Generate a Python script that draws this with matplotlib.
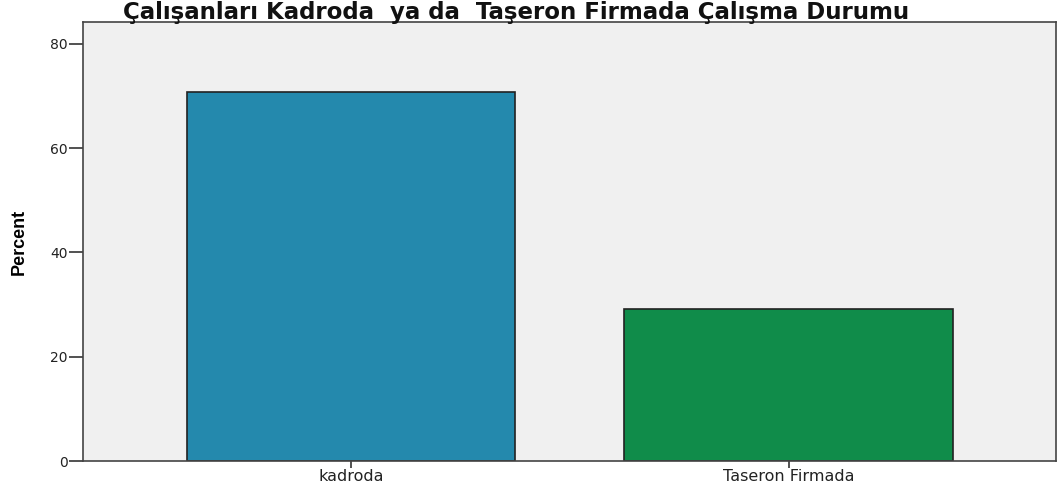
import matplotlib
matplotlib.use("Agg")
import matplotlib.pyplot as plt

categories = ["kadroda", "Taseron Firmada"]
percents = [70.8, 29.2]
colors = ["#2489AD", "#108C4A"]
yticks = [0, 20, 40, 60, 80]
title = "Çalışanları Kadroda  ya da  Taşeron Firmada Çalışma Durumu"

plt.rcParams['font.family'] = ['DejaVu Sans']

fig = plt.figure(figsize=(10.59, 4.9), dpi=100)
ax = fig.add_axes([83/1059, 1 - 461/490, (1056-83)/1059, (461-22)/490])
ax.set_facecolor("#F0F0F0")
x = list(range(len(categories)))
ax.bar(x, percents, width=0.75, color=colors, edgecolor="#222222", linewidth=1.2, zorder=2)
ax.set_xlim(-0.612, 1.611)
ax.set_ylim(0, 84.2)
ax.set_yticks(yticks)
ax.set_xticks(x)
ax.set_xticklabels(categories, fontsize=11.5, color="#222222")
ax.tick_params(axis='y', labelsize=10, length=10, width=1.2, color="#333333", pad=1, labelcolor="#222222")
ax.tick_params(axis='x', length=5, width=1.2, color="#333333", pad=1)
for s in ax.spines.values():
    s.set_color("#444444")
    s.set_linewidth(1.2)
ax.set_ylabel("Percent", family=['Liberation Sans Narrow', 'Liberation Sans', 'DejaVu Sans'],
              fontweight='bold', fontsize=13, labelpad=16)
fig.text(516/1059, 1 - 12/490, title, ha='center', va='center', fontsize=16.5, fontweight='bold',
         color="#111111")
fig.savefig("out.png", dpi=100)
